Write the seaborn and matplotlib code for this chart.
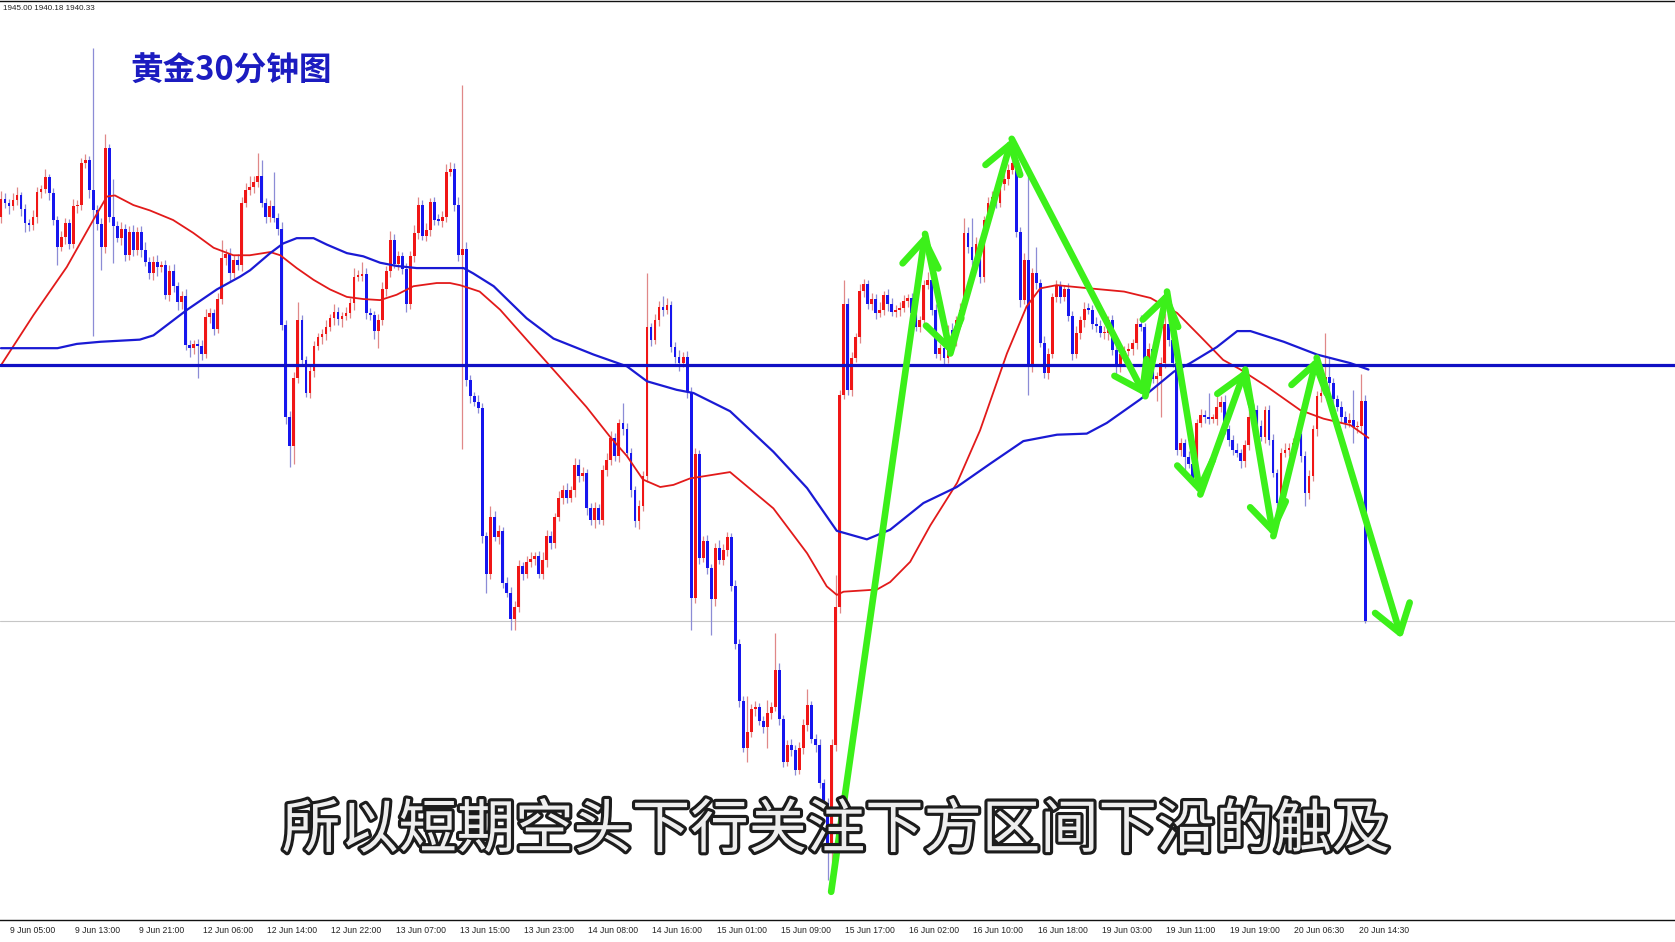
import numpy as np
import pandas as pd
import seaborn as sns
import matplotlib.pyplot as plt
import matplotlib.patheffects as pe
from matplotlib.transforms import ScaledTranslation

# Gold (XAUUSD) 30-minute bars. Open of each bar = previous close.
first_open = 1979.7
closes = [
    1981.4, 1981.0, 1980.7, 1981.3, 1981.7, 1980.4, 1979.1, 1978.9, 1979.7, 1982.0, 1982.3, 1983.4, 1981.9, 1979.4, 1976.9, 1977.8,
    1979.1, 1977.2, 1980.7, 1980.8, 1984.7, 1985.0, 1982.2, 1980.3, 1979.0, 1976.9, 1986.1, 1979.7, 1978.8, 1977.7, 1978.6, 1976.1,
    1978.3, 1976.6, 1978.3, 1976.6, 1975.5, 1974.4, 1975.5, 1975.0, 1975.2, 1972.4, 1974.6, 1973.2, 1971.7, 1972.3, 1967.7, 1967.4,
    1967.8, 1967.6, 1966.9, 1970.3, 1970.7, 1969.2, 1972.0, 1975.8, 1976.2, 1974.4, 1975.7, 1975.2, 1981.0, 1982.2, 1982.5, 1983.0,
    1983.5, 1981.0, 1979.7, 1980.7, 1979.6, 1978.6, 1969.6, 1961.0, 1958.2, 1964.6, 1970.0, 1966.3, 1963.2, 1965.3, 1967.6, 1968.4,
    1968.7, 1969.4, 1970.2, 1970.8, 1970.1, 1970.4, 1970.7, 1971.6, 1974.1, 1974.2, 1974.3, 1970.7, 1970.5, 1969.0, 1970.0, 1972.9,
    1974.6, 1977.5, 1975.3, 1976.0, 1974.8, 1971.5, 1976.0, 1978.2, 1980.8, 1977.9, 1978.5, 1981.1, 1979.4, 1979.3, 1979.7, 1983.9,
    1984.2, 1980.8, 1976.1, 1976.7, 1964.4, 1962.9, 1962.4, 1961.8, 1949.8, 1946.3, 1951.6, 1949.7, 1950.3, 1945.4, 1944.5, 1942.0,
    1943.2, 1947.0, 1946.3, 1947.4, 1947.7, 1947.9, 1946.3, 1947.6, 1949.8, 1949.2, 1951.6, 1953.4, 1954.1, 1953.4, 1954.1, 1956.5,
    1955.4, 1955.7, 1952.4, 1951.3, 1952.4, 1951.3, 1956.0, 1956.9, 1959.0, 1957.3, 1960.4, 1959.8, 1957.6, 1954.1, 1951.2, 1952.6,
    1955.4, 1969.4, 1968.2, 1970.0, 1971.3, 1971.0, 1971.4, 1967.5, 1966.6, 1966.0, 1966.6, 1963.3, 1944.0, 1957.5, 1947.8, 1949.3,
    1946.8, 1943.9, 1948.7, 1947.6, 1948.5, 1949.7, 1945.1, 1939.7, 1934.4, 1930.0, 1931.5, 1933.6, 1933.8, 1932.5, 1931.9, 1933.2,
    1933.8, 1937.3, 1932.7, 1928.7, 1930.2, 1929.8, 1927.9, 1930.0, 1932.1, 1934.0, 1930.8, 1930.2, 1926.7, 1924.8, 1920.3, 1930.2,
    1943.2, 1963.0, 1971.5, 1963.5, 1966.5, 1968.4, 1972.8, 1973.4, 1971.5, 1972.0, 1970.7, 1971.0, 1972.4, 1971.5, 1970.8, 1971.0,
    1971.2, 1971.8, 1972.1, 1970.7, 1969.4, 1970.0, 1973.3, 1973.8, 1971.0, 1966.9, 1967.4, 1966.5, 1969.1, 1968.2, 1970.0, 1971.0,
    1978.2, 1976.9, 1975.7, 1977.2, 1974.1, 1979.4, 1981.0, 1981.6, 1981.0, 1982.8, 1983.2, 1984.1, 1984.7, 1978.3, 1971.9, 1975.7,
    1965.7, 1974.4, 1973.5, 1967.9, 1965.1, 1966.9, 1972.2, 1973.2, 1972.2, 1972.9, 1970.4, 1966.9, 1968.8, 1970.0, 1971.1, 1971.0,
    1969.7, 1969.5, 1968.8, 1968.8, 1970.0, 1967.2, 1965.7, 1966.9, 1967.1, 1967.3, 1967.9, 1969.7, 1969.4, 1965.4, 1967.3, 1964.5,
    1964.8, 1966.0, 1969.7, 1968.2, 1966.0, 1957.9, 1958.5, 1957.2, 1956.6, 1955.1, 1960.4, 1961.1, 1961.0, 1960.8, 1960.8, 1961.9,
    1962.4, 1959.8, 1958.8, 1957.9, 1957.6, 1956.8, 1958.3, 1961.0, 1961.6, 1960.1, 1959.1, 1961.6, 1958.8, 1955.7, 1952.9, 1957.6,
    1957.9, 1958.1, 1958.5, 1959.4, 1957.3, 1953.8, 1955.4, 1959.8, 1962.9, 1963.2, 1964.7, 1964.1, 1962.6, 1961.9, 1961.0, 1960.4,
    1960.7, 1960.0, 1960.1, 1962.5, 1941.9,
]
# shadow above / below the body of each bar
wick_up = [
    0.7, 0.5, 0.4, 0.6, 0.8, 0.3, 0.5, 0.4, 0.6, 0.5, 0.4, 0.8, 0.3, 0.5, 0.4, 0.6,
    0.5, 0.4, 0.7, 0.5, 0.5, 0.6, 0.4, 13.3, 0.5, 0.6, 1.4, 0.4, 3.5, 0.5, 0.6, 0.4,
    0.5, 0.6, 0.4, 0.5, 0.7, 0.4, 0.5, 0.6, 0.4, 0.5, 0.6, 0.7, 0.4, 0.5, 0.6, 0.5,
    0.4, 0.5, 0.6, 0.8, 0.5, 0.4, 0.6, 1.7, 0.5, 0.6, 0.4, 0.5, 0.6, 0.7, 1.0, 0.5,
    2.2, 1.5, 0.5, 0.6, 3.2, 0.5, 0.6, 0.4, 0.5, 0.6, 1.7, 0.5, 0.4, 0.6, 0.5, 0.4,
    0.5, 0.6, 0.4, 0.7, 0.5, 0.4, 0.6, 0.5, 0.8, 0.5, 1.2, 0.6, 0.5, 0.4, 0.6, 0.7,
    0.5, 0.9, 0.6, 0.5, 0.4, 0.6, 0.5, 0.7, 0.8, 0.5, 0.6, 0.4, 0.5, 0.6, 0.5, 0.7,
    0.6, 0.5, 0.8, 15.3, 0.6, 0.5, 0.4, 0.6, 0.5, 0.4, 1.0, 0.6, 0.5, 0.4, 0.6, 0.5,
    0.5, 0.6, 0.4, 0.5, 0.6, 0.4, 0.5, 0.7, 0.6, 0.5, 0.4, 0.6, 0.5, 0.7, 0.4, 0.6,
    0.5, 0.6, 0.4, 0.5, 0.6, 0.4, 0.5, 0.7, 0.6, 0.5, 0.4, 1.9, 0.6, 0.5, 0.4, 0.6,
    0.5, 5.0, 0.4, 0.6, 0.5, 1.0, 0.7, 0.4, 0.5, 0.6, 0.4, 0.5, 0.5, 0.6, 0.4, 0.5,
    0.6, 0.4, 0.5, 0.7, 0.6, 0.5, 0.4, 0.6, 0.5, 0.4, 3.3, 0.5, 0.6, 0.4, 0.5, 1.3,
    0.5, 3.4, 0.6, 0.4, 0.5, 0.6, 0.4, 0.5, 0.6, 1.5, 0.4, 0.5, 0.6, 0.4, 0.5, 0.6,
    3.0, 0.5, 2.3, 0.6, 0.5, 0.4, 0.6, 0.5, 0.4, 0.6, 0.5, 0.7, 0.4, 0.5, 0.6, 0.4,
    0.5, 0.6, 0.4, 0.5, 0.6, 0.4, 0.5, 0.7, 0.6, 0.5, 0.4, 0.6, 0.5, 0.7, 0.4, 0.6,
    1.4, 0.5, 2.7, 0.6, 0.5, 0.4, 0.6, 0.5, 0.7, 0.4, 0.6, 0.5, 0.5, 1.4, 0.4, 0.6,
    8.2, 0.5, 2.5, 0.4, 0.6, 0.5, 0.4, 0.6, 0.5, 0.4, 0.6, 0.5, 0.7, 0.4, 0.6, 0.5,
    0.4, 0.6, 0.5, 0.7, 0.4, 0.5, 0.6, 0.4, 0.5, 0.6, 0.4, 0.5, 0.8, 0.4, 0.6, 0.5,
    0.4, 0.6, 1.0, 0.5, 0.4, 0.6, 0.5, 0.4, 0.6, 0.5, 0.4, 0.6, 0.5, 2.2, 0.4, 1.3,
    0.5, 0.6, 0.4, 0.5, 0.6, 0.4, 0.5, 0.7, 0.4, 0.5, 0.6, 0.4, 0.5, 0.6, 0.4, 0.5,
    0.6, 0.4, 0.5, 0.7, 0.4, 0.5, 0.6, 0.4, 0.5, 0.6, 4.1, 1.9, 0.5, 0.4, 0.6, 0.5,
    0.6, 2.8, 0.5, 2.5, 0.5,
]
wick_dn = [
    0.6, 0.5, 0.7, 0.4, 0.5, 0.6, 0.8, 0.5, 0.4, 0.6, 0.5, 0.4, 0.6, 0.5, 1.7, 0.4,
    0.6, 0.5, 0.4, 0.6, 0.5, 0.4, 0.7, 11.8, 0.5, 2.2, 0.6, 0.5, 3.4, 0.4, 0.6, 0.5,
    0.4, 0.6, 0.5, 0.7, 0.4, 0.5, 0.6, 0.8, 0.5, 0.4, 0.6, 0.5, 0.7, 0.6, 0.5, 0.8,
    0.5, 3.0, 0.6, 0.4, 0.5, 0.6, 0.4, 0.5, 0.6, 0.7, 0.4, 0.5, 0.6, 0.4, 0.5, 0.6,
    0.5, 0.4, 0.6, 0.5, 0.4, 0.6, 0.5, 0.7, 1.9, 1.6, 0.5, 0.6, 0.4, 0.5, 0.6, 0.4,
    0.6, 0.5, 0.4, 0.6, 0.5, 0.7, 0.4, 0.5, 0.6, 0.4, 0.5, 0.6, 0.5, 0.7, 1.6, 0.4,
    0.6, 0.5, 0.4, 0.6, 0.5, 0.7, 0.4, 0.5, 0.6, 0.4, 0.5, 0.6, 0.5, 0.4, 0.6, 0.5,
    0.4, 0.6, 0.5, 18.1, 0.5, 0.6, 0.4, 0.5, 0.6, 1.8, 0.5, 0.4, 0.6, 0.5, 0.4, 1.0,
    1.0, 0.5, 0.6, 0.4, 0.5, 0.6, 0.4, 0.5, 0.7, 0.6, 0.5, 0.4, 0.6, 0.5, 0.4, 0.6,
    0.5, 0.4, 0.6, 0.5, 0.7, 0.4, 0.5, 0.6, 0.4, 0.5, 0.6, 0.5, 0.4, 0.6, 0.5, 0.7,
    0.4, 0.5, 0.6, 0.4, 0.5, 0.6, 0.4, 0.5, 0.6, 0.7, 0.4, 0.6, 3.0, 0.5, 0.6, 0.4,
    0.5, 3.4, 0.6, 0.4, 0.5, 0.6, 0.4, 0.5, 0.6, 0.4, 1.3, 0.5, 0.6, 0.4, 0.5, 1.9,
    0.5, 0.4, 0.6, 0.5, 0.4, 0.6, 0.5, 0.4, 0.6, 0.5, 0.4, 0.6, 0.5, 0.4, 2.7, 3.5,
    0.5, 0.6, 0.4, 0.5, 0.6, 0.4, 0.5, 0.6, 0.4, 0.5, 0.6, 0.4, 0.5, 0.6, 0.4, 0.5,
    0.6, 0.4, 0.5, 0.6, 0.4, 0.5, 0.6, 0.4, 0.5, 0.4, 0.6, 0.8, 0.5, 0.4, 0.6, 0.5,
    0.4, 0.6, 0.5, 0.4, 0.6, 0.5, 0.4, 0.6, 0.5, 0.4, 0.6, 0.5, 0.4, 0.5, 0.6, 0.4,
    2.7, 0.5, 0.6, 0.4, 0.5, 0.6, 0.4, 0.5, 0.6, 0.4, 0.5, 0.6, 0.4, 0.5, 0.6, 0.4,
    0.5, 0.6, 0.4, 0.5, 0.6, 0.4, 0.7, 0.5, 0.6, 0.4, 0.5, 0.6, 0.4, 0.5, 0.6, 0.4,
    2.0, 3.8, 0.5, 0.6, 0.4, 0.5, 0.6, 1.2, 0.4, 0.6, 0.5, 0.4, 0.6, 0.5, 0.4, 0.6,
    0.5, 0.4, 0.6, 0.5, 0.4, 0.6, 0.5, 0.4, 0.6, 0.5, 0.4, 0.6, 0.5, 0.4, 0.6, 0.5,
    0.4, 0.6, 0.5, 0.4, 0.6, 1.2, 0.5, 0.4, 0.6, 0.5, 0.4, 0.6, 0.5, 0.4, 0.6, 0.5,
    0.4, 1.5, 0.5, 0.6, 0.2,
]

tick_labels = [
    "9 Jun 05:00", "9 Jun 13:00", "9 Jun 21:00", "12 Jun 06:00", "12 Jun 14:00", "12 Jun 22:00",
    "13 Jun 07:00", "13 Jun 15:00", "13 Jun 23:00", "14 Jun 08:00", "14 Jun 16:00", "15 Jun 01:00",
    "15 Jun 09:00", "15 Jun 17:00", "16 Jun 02:00", "16 Jun 10:00", "16 Jun 18:00", "19 Jun 03:00",
    "19 Jun 11:00", "19 Jun 19:00", "20 Jun 06:30", "20 Jun 14:30",
]

# moving averages (bar position, price)
ma_fast_bar = [0, 8.1, 16.4, 23.0, 26.4, 28.4, 33.0, 37.1, 42.9, 47.9, 53.0, 57.9, 62.0, 67.1, 69.6, 73.7,
               77.9, 82.0, 86.2, 90.3, 94.5, 98.6, 102.8, 108.6, 111.9, 114.4, 116.9, 119.3, 124.4, 131.0,
               139.3, 145.9, 151.8, 156.0, 160.0, 164.3, 167.6, 171.7, 181.7, 192.5, 200.9, 205.8, 208.3,
               210.0, 218.3, 221.6, 226.6, 231.6, 238.3, 244.0, 250.7, 255.6, 259.0, 263.1, 271.3, 279.9,
               286.5, 293.1, 298.9, 304.6, 308.9, 315.5, 323.8, 329.6, 336.3, 340.8]
ma_fast = [1965.8, 1970.5, 1975.0, 1979.4, 1981.6, 1981.7, 1980.8, 1980.3, 1979.4, 1978.2, 1976.8, 1976.1,
           1976.1, 1976.4, 1976.1, 1974.9, 1973.8, 1972.9, 1972.2, 1972.0, 1971.9, 1972.4, 1973.2, 1973.5,
           1973.5, 1973.3, 1973.0, 1972.7, 1971.0, 1968.2, 1964.7, 1961.9, 1959.1, 1957.3, 1955.1, 1954.4,
           1954.6, 1955.2, 1955.8, 1952.4, 1948.2, 1945.1, 1944.3, 1944.6, 1944.8, 1945.5, 1947.4, 1950.8,
           1954.8, 1959.7, 1966.9, 1971.3, 1973.0, 1973.3, 1973.0, 1972.7, 1972.1, 1970.7, 1968.5, 1966.3,
           1965.4, 1963.8, 1961.6, 1960.8, 1960.2, 1959.0]
ma_slow_bar = [0, 14.1, 18.9, 24.8, 34.6, 38.0, 46.4, 53.8, 59.6, 62.1, 67.1, 70.3, 73.7, 77.9, 81.2, 86.2,
               90.3, 94.5, 98.6, 103.6, 115.3, 117.7, 122.8, 131.0, 137.7, 147.7, 156.0, 161.0, 168.4, 172.6,
               181.7, 192.5, 200.9, 208.3, 215.8, 221.6, 229.9, 238.2, 246.6, 254.8, 263.2, 270.6, 275.6,
               283.9, 292.3, 296.4, 303.0, 308.1, 311.4, 319.7, 328.0, 336.3, 340.8]
ma_slow = [1967.4, 1967.4, 1967.8, 1968.0, 1968.2, 1968.6, 1971.0, 1972.9, 1974.1, 1974.7, 1976.3, 1977.2,
           1977.7, 1977.7, 1977.1, 1976.3, 1976.0, 1975.4, 1975.1, 1974.9, 1974.9, 1974.4, 1973.2, 1970.2,
           1968.3, 1966.8, 1965.7, 1964.3, 1963.5, 1963.2, 1961.5, 1957.7, 1954.3, 1950.3, 1949.5, 1950.4,
           1952.9, 1954.4, 1956.6, 1958.7, 1959.3, 1959.4, 1960.4, 1962.6, 1965.2, 1966.0, 1967.5, 1969.0,
           1969.0, 1968.0, 1966.8, 1966.0, 1965.4]

level_line = 1965.8
bid_line = 1941.9

# hand-drawn green zigzag (bar position, price)
arrow_bar = [206.9, 230.3, 236.6, 251.9, 285.2, 290.6, 298.9, 310.1, 317.1, 327.9, 349.1]
arrow_price = [1916.5, 1978.1, 1966.9, 1987.0, 1962.9, 1972.7, 1953.7, 1965.4, 1949.8, 1966.5, 1940.2]

assert len(closes) == len(wick_up) == len(wick_dn)

sns.set_style("white")
plt.rcParams['font.family'] = ['Noto Sans CJK SC', 'DejaVu Sans']

df = pd.DataFrame({'close': closes})
df['bar'] = np.arange(len(df))
df['open'] = [first_open] + closes[:-1]
df['top'] = df[['open', 'close']].max(axis=1)
df['bottom'] = df[['open', 'close']].min(axis=1)
df['high'] = df['top'] + np.array(wick_up)
df['low'] = df['bottom'] - np.array(wick_dn)
up = df['close'] >= df['open']

fig = plt.figure(figsize=(16.75, 9.42), dpi=100)
ax = fig.add_axes([0, 1 - 861 / 882, 1, 860 / 882])

ax.axhline(bid_line, color='#c6c6c6', lw=0.8, zorder=0.5)
ax.vlines(df['bar'], df['low'], df['high'],
          colors=np.where(up, '#e08888', '#8c8cd6'), lw=0.9, zorder=1)
ax.bar(df['bar'], (df['top'] - df['bottom']).clip(lower=0.15), bottom=df['bottom'],
       width=0.7, color=np.where(up, '#f01616', '#1616ee'), lw=0, zorder=2)

sns.lineplot(x=ma_fast_bar, y=ma_fast, color='#e21a1a', lw=1.3, estimator=None, ax=ax, zorder=3)
sns.lineplot(x=ma_slow_bar, y=ma_slow, color='#1a1ad4', lw=1.6, estimator=None, ax=ax, zorder=3)
ax.axhline(level_line, color='#1010c4', lw=2.3, zorder=4)

for i in range(len(arrow_bar) - 1):
    ax.annotate('', xy=(arrow_bar[i + 1], arrow_price[i + 1]), xytext=(arrow_bar[i], arrow_price[i]),
                arrowprops=dict(arrowstyle='->,head_length=0.95,head_width=0.65', color='#3cf01a',
                                lw=4.8, mutation_scale=20, shrinkA=0, shrinkB=0,
                                capstyle='round', joinstyle='round'),
                zorder=6, annotation_clip=False)

ax.set_xlim(-0.24, 417.2)
ax.set_ylim(1913.9, 1999.9)
ax.set_yticks([])
ax.set_ylabel('')
for side in ['left', 'right']:
    ax.spines[side].set_visible(False)
for side in ['top', 'bottom']:
    ax.spines[side].set_color('#111111')
    ax.spines[side].set_linewidth(1.0)

ax.set_xticks(np.arange(2, len(closes), 16))
ax.set_xticklabels(tick_labels, fontsize=6.2, family='Liberation Sans', color='#222222', ha='left')
ax.tick_params(axis='x', direction='out', length=3, width=0.8, color='#444444', pad=1.5)
offset = ScaledTranslation(1 / 72, 0, fig.dpi_scale_trans)
for lbl in ax.get_xticklabels():
    lbl.set_transform(lbl.get_transform() + offset)

fig.text(0.002, 1 - 8 / 882, '1945.00 1940.18 1940.33', fontsize=5.8, family='Liberation Sans',
         color='#222222', va='center', ha='left')
fig.text(122 / 1568, 1 - 67 / 882, '黄金30分钟图', fontsize=23.5, fontweight='bold', color='#1c1cc0',
         va='center', ha='left')
fig.text(783 / 1568, 1 - 778 / 882, '所以短期空头下行关注下方区间下沿的触及', fontsize=42,
         fontweight='medium', color='#eeeeee', ha='center', va='center', zorder=10,
         path_effects=[pe.withStroke(linewidth=4.5, foreground='#1c1c1c')])

fig.savefig('out.png', dpi=100)
plt.close(fig)
